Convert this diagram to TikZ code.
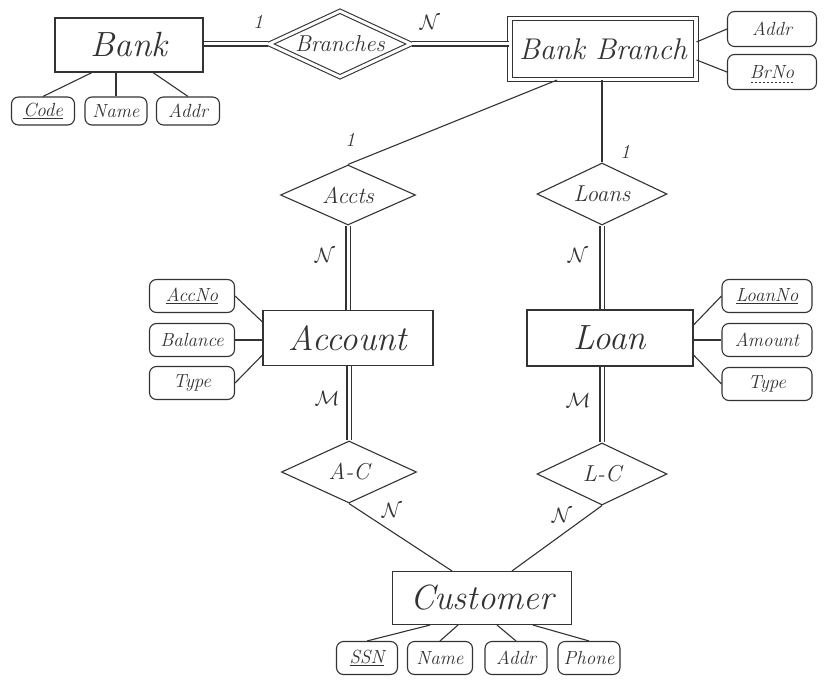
\documentclass[tikz,border=0pt]{standalone}
\usetikzlibrary{shapes.geometric,calc}

\newcommand\erfont{\itshape}

\tikzset{
  entity/.style={draw, rectangle, inner sep=0pt, font={\erfont\fontsize{35}{37}\selectfont}},
  weakentity/.style={entity, double, double distance=3.5pt, font={\erfont\fontsize{30}{32}\selectfont}},
  rel/.style={draw, diamond, shape aspect=2.2, inner sep=0pt, font={\erfont\fontsize{23}{25}\selectfont}},
  identrel/.style={rel, double, double distance=3pt},
  attr/.style={draw, rectangle, rounded corners=7pt, inner sep=0pt, minimum height=33pt,
    font={\erfont\fontsize{19}{21}\selectfont}},
  link/.style={draw},
  total/.style={link, double, double distance=3pt},
  card/.style={font={\fontsize{20}{22}\selectfont}}
}

\begin{document}
\begin{tikzpicture}[x=1pt,y=-1pt, every path/.style={line width=1.1pt, black!80}]
\useasboundingbox (0,0) rectangle (826,684);

% entities
\node[entity, minimum width=148pt, minimum height=54pt] (bank) at (129,45) {Bank};
\node[weakentity, minimum width=186pt, minimum height=61pt] (bbranch) at (603,49) {Bank Branch};
\node[entity, minimum width=170pt, minimum height=55pt] (account) at (348,338) {Account};
\node[entity, minimum width=166pt, minimum height=56pt] (loan) at (610,338) {Loan};
\node[entity, minimum width=179pt, minimum height=53pt] (customer) at (482,598) {Customer};

% relationships
\node[identrel, minimum width=142pt, minimum height=66pt] (branches) at (340,44) {Branches};
\node[rel, minimum width=135pt, minimum height=60pt] (accts) at (348,195) {Accts};
\node[rel, minimum width=130pt, minimum height=62pt] (loans) at (602,194) {Loans};
\node[rel, minimum width=135pt, minimum height=62pt] (ac) at (349,472) {A-C};
\node[rel, minimum width=130pt, minimum height=62pt] (lc) at (602,474) {L-C};

% attributes
\node[attr, minimum width=63pt, minimum height=28pt] (bcode) at (43,111) {\underline{Code}};
\node[attr, minimum width=62pt, minimum height=28pt] (bname) at (116,111) {Name};
\node[attr, minimum width=63pt, minimum height=28pt] (baddr) at (188,111) {Addr};
\node[attr, minimum width=89pt, minimum height=35pt] (braddr) at (772,29) {Addr};
\node[attr, minimum width=89pt, minimum height=35pt] (brno) at (772,72) {BrNo};
\draw[dashed, line width=0.7pt, dash pattern=on 2pt off 2pt] ($(brno.base)+(-21,4)$) -- ($(brno.base)+(21,4)$);
\node[attr, minimum width=85pt] (accno) at (192,296) {\underline{AccNo}};
\node[attr, minimum width=85pt] (balance) at (192,340) {Balance};
\node[attr, minimum width=85pt] (acctype) at (192,383) {Type};
\node[attr, minimum width=90pt] (loanno) at (767,296) {\underline{LoanNo}};
\node[attr, minimum width=90pt] (amount) at (767,340) {Amount};
\node[attr, minimum width=90pt] (loantype) at (767,384) {Type};
\node[attr, minimum width=61pt] (ssn) at (367,658) {\underline{SSN}};
\node[attr, minimum width=65pt] (cname) at (440,658) {Name};
\node[attr, minimum width=62pt] (caddr) at (516,658) {Addr};
\node[attr, minimum width=62pt] (phone) at (589,658) {Phone};

% relationship links
\draw[total] (bank.east |- branches.west) -- (branches.west);
\draw[total] (branches.east) -- (branches.east -| bbranch.west);
\draw[link] ($(bbranch.south)+(-46,0)$) -- (accts.north);
\draw[link] (loans.north |- bbranch.south) -- (loans.north);
\draw[total] (accts.south) -- (accts.south |- account.north);
\draw[total] (loans.south) -- (loans.south |- loan.north);
\draw[total] (ac.north |- account.south) -- (ac.north);
\draw[total] (lc.north |- loan.south) -- (lc.north);
\draw[link] (ac.south) -- ($(customer.north)+(-30,0)$);
\draw[link] (lc.south) -- ($(customer.north)+(30,0)$);

% attribute links
\draw[link] ($(bank.south)+(-37,0)$) -- (bcode.north);
\draw[link] (bank.south -| bname.north) -- (bname.north);
\draw[link] ($(bank.south)+(24,0)$) -- (baddr.north);
\draw[link] ($(bbranch.east)+(0,-7)$) -- (braddr.west);
\draw[link] ($(bbranch.east)+(0,11)$) -- (brno.west);
\draw[link] (accno.east) -- ($(account.west)+(0,-16)$);
\draw[link] (balance.east) -- (balance.east -| account.west);
\draw[link] (acctype.east) -- ($(account.west)+(0,17)$);
\draw[link] ($(loan.east)+(0,-13)$) -- (loanno.west);
\draw[link] (amount.west -| loan.east) -- (amount.west);
\draw[link] ($(loan.east)+(0,17)$) -- (loantype.west);
\draw[link] ($(customer.south)+(-52,0)$) -- (ssn.north);
\draw[link] ($(customer.south)+(-24,0)$) -- (cname.north);
\draw[link] ($(customer.south)+(15,0)$) -- (caddr.north);
\draw[link] ($(customer.south)+(51,0)$) -- (phone.north);

% cardinalities
\node[card] (c1) at (258,22) {\erfont 1};
\node[card] (c2) at (430,22) {$\mathcal{N}$};
\node[card] (c3) at (350,140) {\erfont 1};
\node[card] (c4) at (625,152) {\erfont 1};
\node[card] (c5) at (325,255) {$\mathcal{N}$};
\node[card] (c6) at (578,255) {$\mathcal{N}$};
\node[card] (c7) at (327,398) {$\mathcal{M}$};
\node[card] (c8) at (578,400) {$\mathcal{M}$};
\node[card] (c9) at (392,510) {$\mathcal{N}$};
\node[card] (c10) at (562,515) {$\mathcal{N}$};
\end{tikzpicture}
\end{document}
